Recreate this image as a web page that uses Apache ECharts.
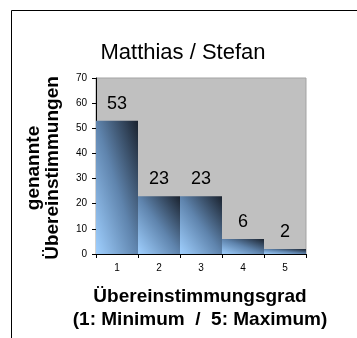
<!DOCTYPE html>
<html>
<head>
<meta charset="utf-8">
<script src="https://cdn.jsdelivr.net/npm/echarts@6/dist/echarts.min.js"></script>
<style>
  html, body { margin: 0; padding: 0; background: #ffffff; }
  #chart { width: 357px; height: 338px; }
</style>
</head>
<body>
<div id="chart"></div>
<script>
// Agreement ratings, Matthias vs. Stefan
const categories = ['1', '2', '3', '4', '5'];
const counts = [53, 23, 23, 6, 2];
const yTicks = [0, 10, 20, 30, 40, 50, 60, 70];

const titleText = 'Matthias / Stefan';
const yName = ['genannte', 'Übereinstimmungen'];
const xName = ['Übereinstimmungsgrad', '(1: Minimum  /  5: Maximum)'];

const FONT = 'Liberation Sans, Arial, sans-serif';

// plot rectangle
const grid = { left: 96, top: 78, right: 51, bottom: 84 };
const plotW = 357 - grid.left - grid.right;
const plotH = 338 - grid.top - grid.bottom;
const yMax = yTicks[yTicks.length - 1];

// Diagonal shading: light in the lower-left corner, dark in the upper-right,
// with the mid tone running along the bar's other diagonal.
function barFill(v) {
  const w = plotW / categories.length;
  const h = Math.max(v / yMax * plotH, 0.5);
  const s = h * h + w * w;
  return new echarts.graphic.LinearGradient(0, 1, 2 * h * h / s, 1 - 2 * w * w / s, [
    { offset: 0, color: '#a0d0ff' },
    { offset: 0.5, color: '#5f84ad' },
    { offset: 1, color: '#1a222e' }
  ]);
}

const chart = echarts.init(document.getElementById('chart'), null, { renderer: 'canvas' });

chart.setOption({
  animation: false,
  backgroundColor: '#ffffff',
  grid: {
    left: grid.left, top: grid.top, right: grid.right, bottom: grid.bottom,
    show: true, backgroundColor: '#c0c0c0', borderColor: '#a3a3a3', borderWidth: 1
  },
  xAxis: {
    type: 'category',
    data: categories,
    boundaryGap: true,
    axisLine: { lineStyle: { color: '#000000', width: 1 } },
    axisTick: { show: true, length: 4, lineStyle: { color: '#000000' } },
    axisLabel: { color: '#000000', fontSize: 10, fontFamily: FONT, margin: 9 },
    splitLine: { show: false }
  },
  yAxis: {
    type: 'value',
    min: yTicks[0], max: yMax, interval: 10,
    axisLine: { show: true, lineStyle: { color: '#000000', width: 1 } },
    axisTick: { show: true, length: 4, lineStyle: { color: '#000000' } },
    axisLabel: { color: '#000000', fontSize: 10, fontFamily: FONT, margin: 9 },
    splitLine: { show: false }
  },
  series: [{
    type: 'bar',
    barCategoryGap: 0,
    barGap: 0,
    data: counts.map(v => ({ value: v, itemStyle: { color: barFill(v) } })),
    label: {
      show: true, position: 'top', distance: 8,
      color: '#000000', fontSize: 18, fontFamily: FONT
    }
  }],
  graphic: [
    {
      type: 'rect', silent: true, z: -1,
      shape: { x: 11.5, y: 10.5, width: 400, height: 400 },
      style: { fill: 'none', stroke: '#000000', lineWidth: 1 }
    },
    {
      type: 'text', silent: true,
      x: 183, y: 53,
      style: {
        text: titleText, fill: '#000000', font: '22px ' + FONT,
        align: 'center', verticalAlign: 'middle'
      }
    },
    {
      type: 'text', silent: true,
      x: 43, y: 168, rotation: Math.PI / 2,
      style: {
        text: yName.join('\n'), fill: '#000000', font: 'bold 19px ' + FONT,
        align: 'center', verticalAlign: 'middle', lineHeight: 19
      }
    },
    {
      type: 'text', silent: true,
      x: 200, y: 308,
      style: {
        text: xName.join('\n'), fill: '#000000', font: 'bold 19px ' + FONT,
        align: 'center', verticalAlign: 'middle', lineHeight: 23
      }
    }
  ]
});
</script>
</body>
</html>
